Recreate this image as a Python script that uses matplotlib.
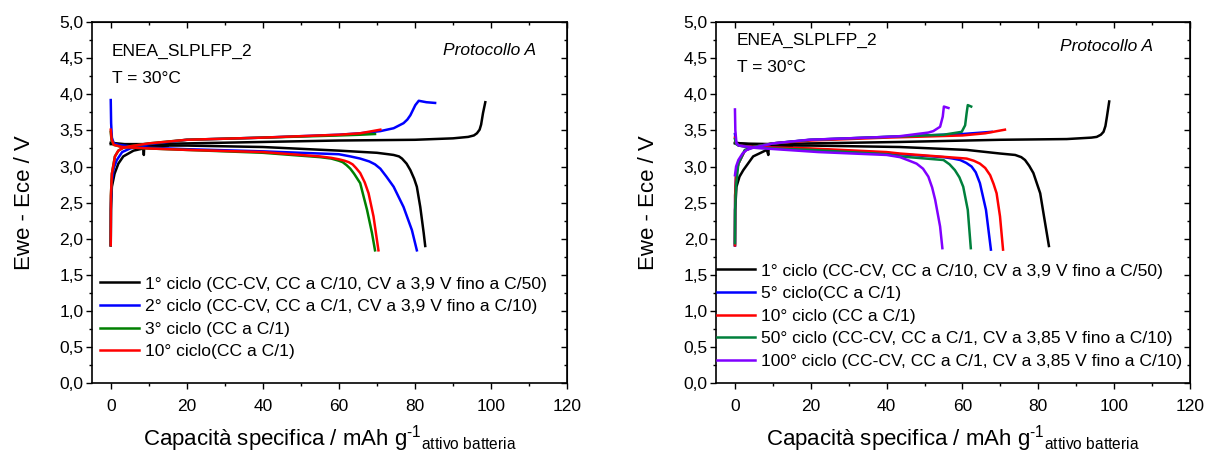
import matplotlib
matplotlib.use('Agg')
import matplotlib.pyplot as plt
from matplotlib.ticker import MultipleLocator, FuncFormatter

plt.rcParams['font.family'] = ['Liberation Sans', 'DejaVu Sans']
plt.rcParams['mathtext.fontset'] = 'custom'
plt.rcParams['mathtext.rm'] = 'Liberation Sans'
plt.rcParams['mathtext.it'] = 'Liberation Sans:italic'

# ---- left panel: cycles 1, 2, 3, 10 ----
a1_charge_x = [0, 10, 20, 40, 60, 80, 90, 94, 95.5, 96.3, 97.0, 97.4, 97.9, 98.5]
a1_charge_y = [3.31, 3.31, 3.32, 3.34, 3.36, 3.37, 3.39, 3.41, 3.43, 3.46, 3.51, 3.58, 3.74, 3.89]
a1_rise_x = [0, 0.05, 0.3, 1, 2, 3.3, 6, 8.6, 8.7, 8.8, 15]
a1_rise_y = [1.91, 2.4, 2.72, 2.9, 3.04, 3.14, 3.22, 3.25, 3.16, 3.27, 3.29]
a1_dis_x = [0, 5, 10, 20, 40, 60, 70, 73, 74.4, 75.8, 76.6, 77.8, 78.8, 79.8, 80.5, 81.4, 82.3, 82.7]
a1_dis_y = [3.33, 3.30, 3.29, 3.29, 3.27, 3.22, 3.19, 3.17, 3.16, 3.14, 3.11, 3.04, 2.95, 2.83, 2.72, 2.44, 2.08, 1.90]

a2_charge_x = [0, 0.05, 0.3, 0.8, 1.6, 3, 5.1, 10, 20, 40, 60, 65.6, 70.9, 74.4, 77, 78, 78.8, 80.1, 81, 83, 85.3]
a2_charge_y = [1.91, 2.5, 2.8, 2.98, 3.09, 3.2, 3.25, 3.31, 3.37, 3.40, 3.44, 3.46, 3.49, 3.53, 3.60, 3.65, 3.71, 3.85, 3.91, 3.89, 3.88]
a2_dis_x = [0, 0.1, 0.3, 0.8, 2, 5, 10, 20, 40, 60, 63, 65.6, 68, 69.5, 70.9, 72.5, 74.4, 77, 79.2, 80.5]
a2_dis_y = [3.92, 3.6, 3.4, 3.32, 3.30, 3.28, 3.26, 3.24, 3.21, 3.17, 3.14, 3.11, 3.07, 3.03, 2.97, 2.86, 2.72, 2.44, 2.12, 1.84]

a3_charge_x = [0, 0.05, 0.3, 1.1, 2, 3.3, 5, 10, 20, 40, 60, 65.6, 69.5]
a3_charge_y = [1.91, 2.6, 2.9, 3.14, 3.22, 3.26, 3.28, 3.32, 3.37, 3.40, 3.43, 3.44, 3.45]
a3_dis_x = [0, 0.2, 0.8, 3, 10, 20, 40, 55, 58, 60, 61, 62, 63, 64, 65.6, 67.4, 68.7, 69.5]
a3_dis_y = [3.48, 3.36, 3.30, 3.27, 3.25, 3.23, 3.19, 3.13, 3.11, 3.08, 3.06, 3.02, 2.97, 2.90, 2.77, 2.40, 2.08, 1.84]

a4_charge_x = [0, 0.05, 0.3, 1.1, 2, 3.3, 5, 10, 20, 40, 60, 65.6, 70.9]
a4_charge_y = [1.91, 2.6, 2.9, 3.14, 3.22, 3.26, 3.28, 3.32, 3.37, 3.40, 3.44, 3.46, 3.51]
a4_dis_x = [0, 0.2, 0.8, 3, 10, 20, 40, 55, 58, 60, 61.5, 62.6, 63.6, 64.5, 65.6, 66.8, 67.8, 69.1, 70.4]
a4_dis_y = [3.51, 3.38, 3.30, 3.27, 3.25, 3.23, 3.20, 3.14, 3.12, 3.10, 3.08, 3.06, 3.03, 2.98, 2.91, 2.78, 2.63, 2.31, 1.84]

labels_a = ['1° ciclo (CC-CV, CC a C/10, CV a 3,9 V fino a C/50)',
            '2° ciclo (CC-CV, CC a C/1, CV a 3,9 V fino a C/10)',
            '3° ciclo (CC a C/1)',
            '10° ciclo(CC a C/1)']
colors_a = ['#000000', '#0000ff', '#008000', '#ff0000']

# ---- right panel: cycles 1, 5, 10, 50, 100 ----
b1_charge_x = [0, 10, 20, 43.5, 69.9, 87.5, 94, 95.4, 96.5, 97.2, 97.7, 98.1, 98.7]
b1_charge_y = [3.32, 3.31, 3.32, 3.34, 3.37, 3.38, 3.40, 3.41, 3.44, 3.48, 3.56, 3.69, 3.90]
b1_rise_x = [0, 0.05, 0.4, 1.2, 2.2, 4.8, 8.4, 8.8, 8.9, 15]
b1_rise_y = [1.91, 2.4, 2.72, 2.86, 2.95, 3.14, 3.23, 3.16, 3.26, 3.29]
b1_dis_x = [0, 5, 10, 20, 43.5, 61.1, 69.9, 73.9, 75.5, 76.5, 77.6, 78.7, 80.5, 81.5, 82.8]
b1_dis_y = [3.33, 3.30, 3.29, 3.29, 3.27, 3.23, 3.18, 3.16, 3.13, 3.09, 3.01, 2.91, 2.63, 2.31, 1.90]

b5_charge_x = [0, 0.05, 0.3, 0.9, 2.6, 4.8, 10, 20, 40, 60, 67.7]
b5_charge_y = [1.91, 2.6, 2.9, 3.04, 3.22, 3.27, 3.32, 3.37, 3.41, 3.45, 3.48]
b5_dis_x = [0, 0.3, 1, 5, 20, 40, 43.5, 55, 57.5, 59.4, 61, 62.4, 63.5, 64.6, 66.2, 67.5]
b5_dis_y = [3.45, 3.33, 3.29, 3.27, 3.24, 3.19, 3.17, 3.13, 3.11, 3.09, 3.05, 3.00, 2.92, 2.77, 2.40, 1.85]

b10_charge_x = [0, 0.05, 0.3, 0.9, 2.6, 4.8, 10, 20, 40, 60, 66, 71.2]
b10_charge_y = [1.91, 2.6, 2.9, 3.04, 3.22, 3.27, 3.32, 3.36, 3.40, 3.43, 3.46, 3.51]
b10_dis_x = [0, 0.3, 1, 5, 20, 40, 43.5, 61.1, 63, 64.6, 66, 67.3, 68.2, 69.0, 69.9, 70.7]
b10_dis_y = [3.40, 3.32, 3.29, 3.27, 3.25, 3.20, 3.18, 3.11, 3.08, 3.04, 2.98, 2.88, 2.76, 2.63, 2.31, 1.85]

b50_charge_x = [0, 0.05, 0.26, 0.9, 2.6, 4.8, 10, 20, 40, 55, 59.8, 60.7, 61.1, 61.4, 62.3]
b50_charge_y = [1.94, 2.4, 2.72, 3.04, 3.23, 3.27, 3.32, 3.37, 3.41, 3.44, 3.48, 3.57, 3.74, 3.85, 3.83]
b50_dis_x = [0, 0.3, 1, 5, 20, 40, 43.5, 55, 56.6, 58, 59.2, 60.2, 61.4, 62.2]
b50_dis_y = [3.38, 3.31, 3.29, 3.26, 3.23, 3.17, 3.14, 3.09, 3.03, 2.95, 2.85, 2.72, 2.40, 1.87]

b100_charge_x = [0, 0.3, 0.9, 2, 3.1, 4.8, 10, 19.4, 39.8, 43.5, 51, 52.3, 54.1, 54.8, 55.1, 56.3]
b100_charge_y = [2.88, 3.0, 3.09, 3.18, 3.23, 3.26, 3.32, 3.37, 3.41, 3.42, 3.47, 3.49, 3.55, 3.69, 3.83, 3.81]
b100_dis_x = [0, 0.1, 0.4, 1, 5, 22, 40, 43.5, 46, 47.9, 49.6, 51.0, 52.0, 52.8, 54.1, 54.7]
b100_dis_y = [3.79, 3.5, 3.32, 3.29, 3.26, 3.20, 3.16, 3.13, 3.08, 3.04, 2.97, 2.86, 2.71, 2.54, 2.17, 1.87]

labels_b = ['1° ciclo (CC-CV, CC a C/10, CV a 3,9 V fino a C/50)',
            '5° ciclo(CC a C/1)',
            '10° ciclo (CC a C/1)',
            '50° ciclo (CC-CV, CC a C/1, CV a 3,85 V fino a C/10)',
            '100° ciclo (CC-CV, CC a C/1, CV a 3,85 V fino a C/10)']
colors_b = ['#000000', '#0000ff', '#ff0000', '#00803c', '#8000ff']

series_a = [
    [(a1_charge_x, a1_charge_y), (a1_rise_x, a1_rise_y), (a1_dis_x, a1_dis_y)],
    [(a2_charge_x, a2_charge_y), (a2_dis_x, a2_dis_y)],
    [(a3_charge_x, a3_charge_y), (a3_dis_x, a3_dis_y)],
    [(a4_charge_x, a4_charge_y), (a4_dis_x, a4_dis_y)],
]
series_b = [
    [(b1_charge_x, b1_charge_y), (b1_rise_x, b1_rise_y), (b1_dis_x, b1_dis_y)],
    [(b5_charge_x, b5_charge_y), (b5_dis_x, b5_dis_y)],
    [(b10_charge_x, b10_charge_y), (b10_dis_x, b10_dis_y)],
    [(b50_charge_x, b50_charge_y), (b50_dis_x, b50_dis_y)],
    [(b100_charge_x, b100_charge_y), (b100_dis_x, b100_dis_y)],
]

comma = FuncFormatter(lambda v, p: ('%.1f' % v).replace('.', ','))
xlab = r'Capacità specifica / mAh g$^{\text{-1}}$$_{\mathregular{attivo\ batteria}}$'


def draw_panel(ax, series, labels, colors, txt_pos, legend_anchor):
    handles = []
    for segs, lab, col in zip(series, labels, colors):
        for i, (x, y) in enumerate(segs):
            ln, = ax.plot(x, y, color=col, lw=1.8, solid_joinstyle='round')
            if i == 0:
                ln.set_label(lab)
                handles.append(ln)

    ax.set_xlim(-5, 120)
    ax.set_ylim(0, 5)
    ax.xaxis.set_major_locator(MultipleLocator(20))
    ax.xaxis.set_minor_locator(MultipleLocator(10))
    ax.yaxis.set_major_locator(MultipleLocator(0.5))
    ax.yaxis.set_minor_locator(MultipleLocator(0.25))
    ax.yaxis.set_major_formatter(comma)
    ax.tick_params(which='both', direction='out', width=1.0, labelsize=12.5)
    ax.tick_params(which='major', length=4)
    ax.tick_params(which='minor', length=2.5)
    ax.tick_params(axis='x', pad=7)
    ax.tick_params(axis='y', pad=2)
    for s in ax.spines.values():
        s.set_linewidth(1.2)

    top = ax.secondary_xaxis('top')
    top.xaxis.set_major_locator(MultipleLocator(20))
    top.xaxis.set_minor_locator(MultipleLocator(10))
    top.tick_params(which='both', direction='in', labeltop=False, width=1.0)
    top.tick_params(which='major', length=4)
    top.tick_params(which='minor', length=2.5)
    right = ax.secondary_yaxis('right')
    right.yaxis.set_major_locator(MultipleLocator(0.5))
    right.yaxis.set_minor_locator(MultipleLocator(0.25))
    right.tick_params(which='both', direction='in', labelright=False, width=1.0)
    right.tick_params(which='major', length=4)
    right.tick_params(which='minor', length=2.5)

    ax.set_ylabel('Ewe - Ece / V', fontsize=16)
    ax.yaxis.set_label_coords(-0.12, 0.5)
    ax.set_xlabel(xlab, fontsize=16)
    ax.xaxis.set_label_coords(0.5, -0.11)

    (x1, y1), (x2, y2), (x3, y3) = txt_pos
    ax.text(x1, y1, 'ENEA_SLPLFP_2', transform=ax.transAxes, fontsize=12.5, va='baseline')
    ax.text(x2, y2, 'T = 30°C', transform=ax.transAxes, fontsize=12.5, va='baseline')
    ax.text(x3, y3, 'Protocollo A', transform=ax.transAxes, fontsize=12.5,
            va='baseline', ha='right', style='italic')

    ax.legend(handles=handles, loc='center left', bbox_to_anchor=legend_anchor,
              frameon=False, fontsize=12.6, handlelength=2.2, handletextpad=0.34,
              labelspacing=0.42, borderpad=0, borderaxespad=0)


fig = plt.figure(figsize=(12.07, 4.53), dpi=100)
ax1 = fig.add_axes([0.0760, 0.1539, 0.3938, 0.7975])
ax2 = fig.add_axes([0.5932, 0.1539, 0.3927, 0.7975])

draw_panel(ax1, series_a, labels_a, colors_a,
           [(0.0417, 0.906), (0.0417, 0.831), (0.935, 0.909)], (0.0175, 0.181))
draw_panel(ax2, series_b, labels_b, colors_b,
           [(0.0437, 0.936), (0.0437, 0.862), (0.923, 0.921)], (0.0015, 0.186))

fig.savefig('out.png', dpi=100)
